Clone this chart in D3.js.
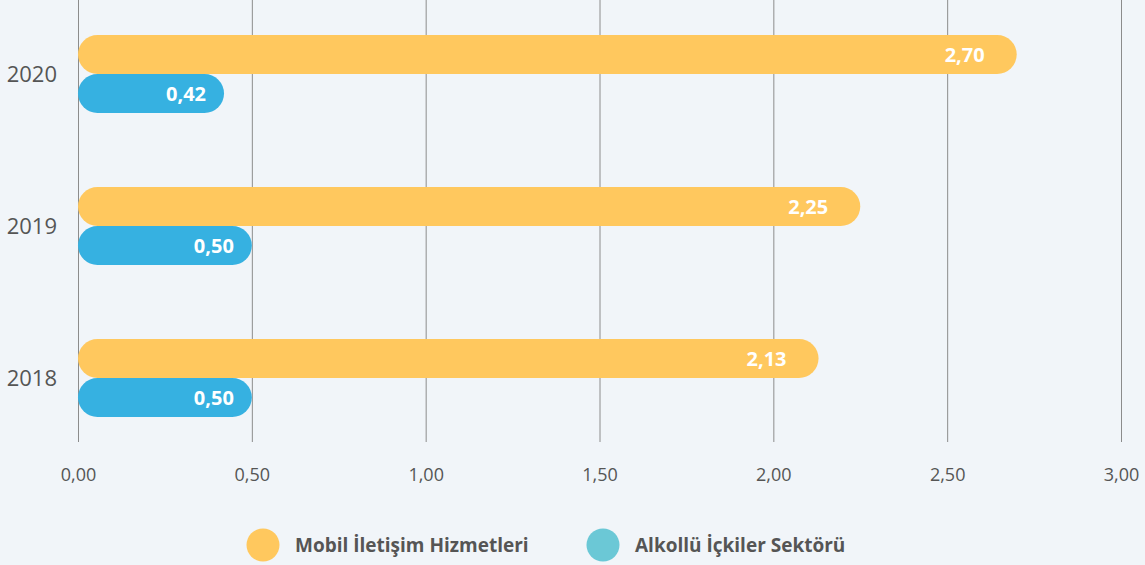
<!DOCTYPE html>
<html>
<head>
<meta charset="utf-8">
<script src="https://cdn.jsdelivr.net/npm/d3@7"></script>
<style>
  html, body { margin: 0; padding: 0; background: #f1f5f9; }
  svg { display: block; font-family: "Open Sans", sans-serif; }
</style>
</head>
<body>
<svg id="chart"></svg>
<script>
// veriler
var years = ['2020', '2019', '2018'];
var seriesNames = ['Mobil İletişim Hizmetleri', 'Alkollü İçkiler Sektörü'];
var mobilValues = [2.70, 2.25, 2.13];
var alkolValues = [0.42, 0.50, 0.50];
var tickValues = [0, 0.5, 1, 1.5, 2, 2.5, 3];

var barColors = ['#ffc85e', '#36b1e1'];
var legendColors = ['#ffc85e', '#6bc8d6'];
var labelInset = [32, 18];

var svgWidth = 1145;
var svgHeight = 565;

var svg = d3.select('#chart')
  .attr('width', svgWidth)
  .attr('height', svgHeight);

svg.append('rect')
  .attr('width', svgWidth).attr('height', svgHeight)
  .attr('fill', '#f1f5f9');

var x = d3.scaleLinear().domain([0, 3]).range([78, 1121]);

var y = d3.scaleBand()
  .domain(years)
  .range([-2, 454])
  .paddingInner(0.487)
  .paddingOuter(0.2435);

var ySub = d3.scaleBand()
  .domain([0, 1])
  .range([0, y.bandwidth()]);

// grid lines + axis labels
var axis = d3.axisBottom(x)
  .tickValues(tickValues)
  .tickSize(442)
  .tickFormat(function(d){ return d3.format('.2f')(d).replace('.', ','); });

var gAxis = svg.append('g').call(axis);
gAxis.select('.domain').remove();
gAxis.selectAll('.tick line').attr('stroke', '#8c8c8c').attr('stroke-width', 1);
gAxis.selectAll('.tick text')
  .attr('y', 0)
  .attr('dy', 0)
  .attr('transform', 'translate(0,481)')
  .attr('fill', '#555')
  .style('font-size', '18px')
  .style('font-family', '"Open Sans", sans-serif');

// bars
var rows = years.map(function(yr, i){
  return { year: yr, values: [mobilValues[i], alkolValues[i]] };
});

var groups = svg.selectAll('g.year')
  .data(rows)
  .enter()
  .append('g')
  .attr('class', 'year')
  .attr('transform', function(d){ return 'translate(0,' + y(d.year) + ')'; });

var bh = ySub.bandwidth();

groups.selectAll('rect')
  .data(function(d){ return d.values; })
  .enter()
  .append('rect')
  .attr('x', x(0))
  .attr('y', function(d, i){ return ySub(i); })
  .attr('width', function(d){ return x(d) - x(0); })
  .attr('height', bh)
  .attr('rx', bh / 2)
  .attr('fill', function(d, i){ return barColors[i]; });

groups.selectAll('text.val')
  .data(function(d){ return d.values; })
  .enter()
  .append('text')
  .attr('class', 'val')
  .attr('x', function(d, i){ return x(d) - labelInset[i]; })
  .attr('y', function(d, i){ return ySub(i) + bh / 2; })
  .attr('dy', '0.36em')
  .attr('text-anchor', 'end')
  .attr('fill', '#fff')
  .style('font-weight', 'bold')
  .style('font-size', '20px')
  .text(function(d){ return d3.format('.2f')(d).replace('.', ','); });

// year labels
svg.selectAll('text.yr')
  .data(years)
  .enter()
  .append('text')
  .attr('class', 'yr')
  .attr('x', 57)
  .attr('y', function(d){ return y(d) + y.bandwidth() / 2; })
  .attr('dy', '0.36em')
  .attr('text-anchor', 'end')
  .attr('fill', '#555')
  .style('font-size', '22px')
  .text(function(d){ return d; });

// legend
var legendX = [263, 603];
var legend = svg.selectAll('g.legend')
  .data(seriesNames)
  .enter()
  .append('g')
  .attr('class', 'legend')
  .attr('transform', function(d, i){ return 'translate(' + legendX[i] + ',545)'; });

legend.append('circle')
  .attr('r', 16.5)
  .attr('fill', function(d, i){ return legendColors[i]; });

legend.append('text')
  .attr('x', 32)
  .attr('dy', '0.36em')
  .attr('fill', '#555')
  .style('font-weight', 'bold')
  .style('font-size', '19px')
  .text(function(d){ return d; });
</script>
</body>
</html>
